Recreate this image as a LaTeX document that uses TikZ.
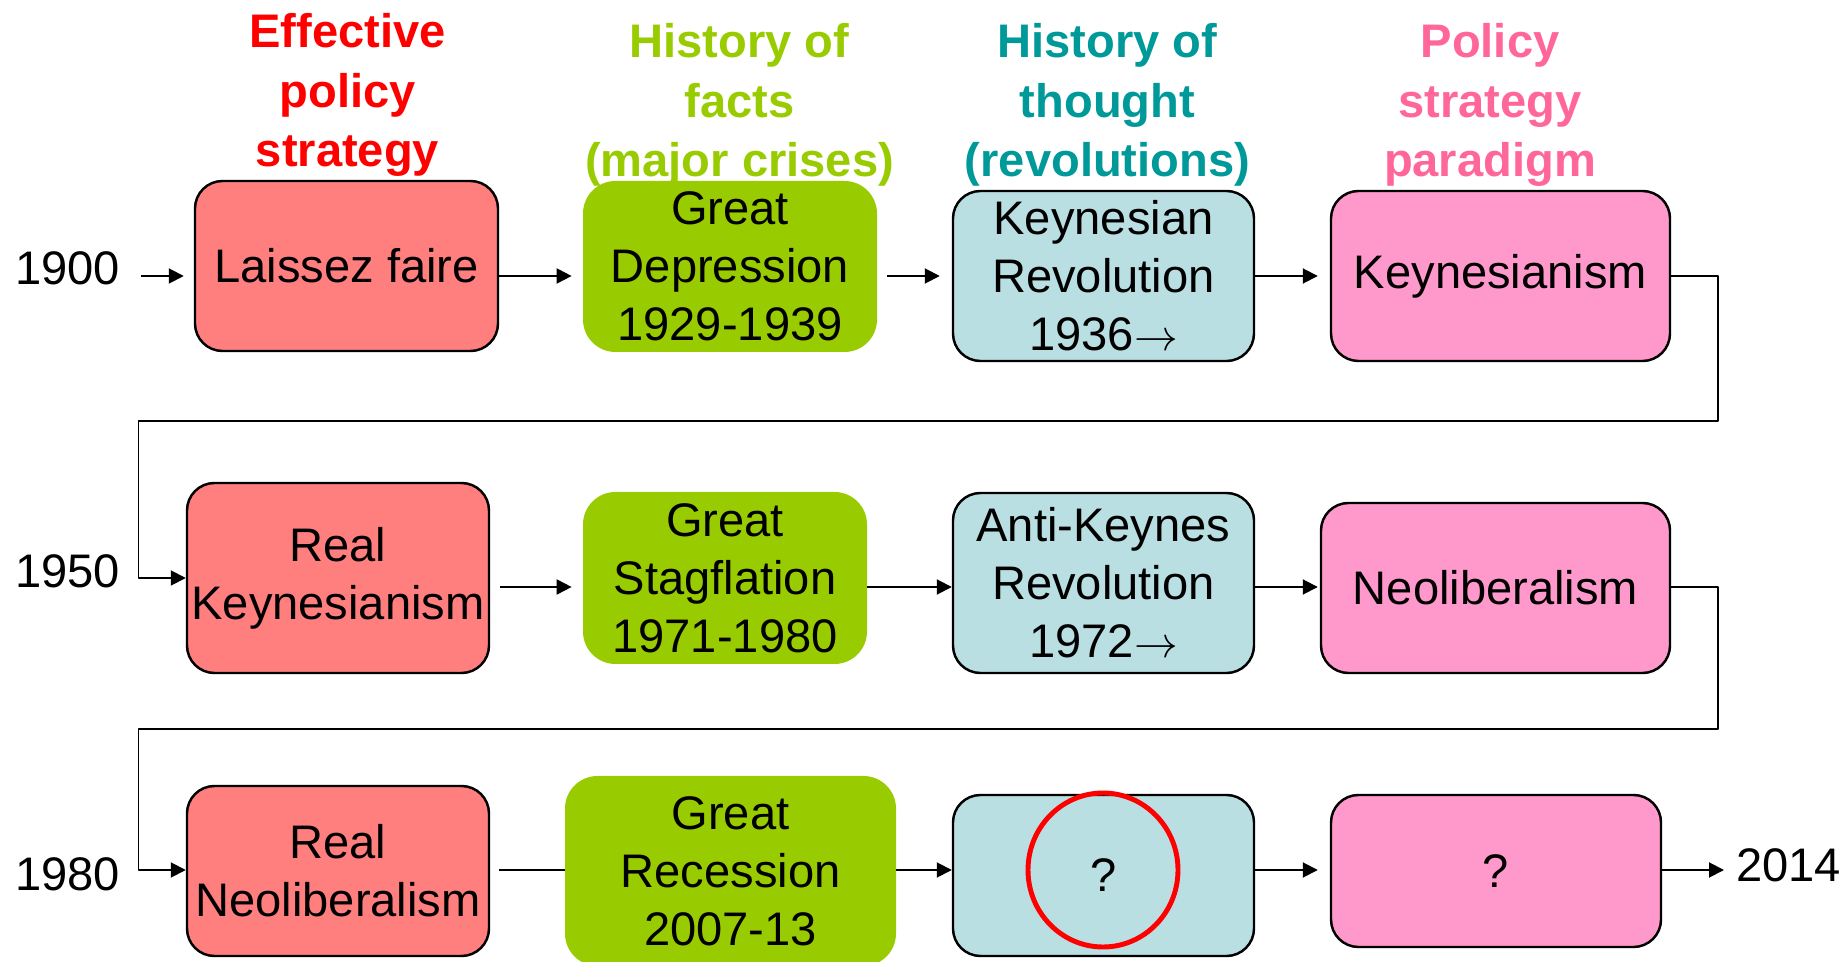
\documentclass[tikz,border=0pt]{standalone}
\usepackage{fontspec}
\setmainfont{Liberation Sans}
\usetikzlibrary{arrows.meta}

\definecolor{saumon}{HTML}{FF7F7F}
\definecolor{vert}{HTML}{99CC00}
\definecolor{bleu}{HTML}{B9DFE3}
\definecolor{rose}{HTML}{FF99CC}
\definecolor{sarcelle}{HTML}{009999}
\definecolor{roseF}{HTML}{FF6699}

\begin{document}
\begin{tikzpicture}[line join=round,
    texte/.style={inner sep=0pt, align=center, font=\fontsize{26.8pt}{33pt}\selectfont},
    titre/.style={texte, anchor=north, font=\fontsize{26.8pt}{34pt}\selectfont\bfseries},
    boite/.style={texte, draw=black, line width=1.4pt, rounded corners=0.55cm},
    crise/.style={texte, fill=vert, rounded corners=0.65cm},
    fleche/.style={line width=1.1pt, -{Triangle[length=0.3cm,width=0.3cm]}},
    trait/.style={line width=1.1pt}]

    \useasboundingbox (0,0) rectangle (36.94,19.22);

    % Lignes des fleches
    \coordinate (r1) at (0,13.70);
    \coordinate (r2) at (0,7.48);
    \coordinate (r3) at (0,1.82);
    \coordinate (d1) at (34.36,10.80);
    \coordinate (g1) at (2.77,10.80);
    \coordinate (d2) at (34.36,4.64);
    \coordinate (g2) at (2.77,4.64);

    % Titres des colonnes
    \node[titre, text=red] (t1) at (6.95,18.96) {Effective\\policy\\strategy};
    \node[titre, text=vert] (t2) at (14.79,18.76) {History of\\facts\\(major crises)};
    \node[titre, text=sarcelle] (t3) at (22.15,18.76) {History of\\thought\\(revolutions)};
    \node[titre, text=roseF] (t4) at (29.80,18.76) {Policy\\strategy\\paradigm};

    % Annees
    \node[texte, anchor=west] (y1900) at (0.30,13.86) {1900};
    \node[texte, anchor=west] (y1950) at (0.30,7.80) {1950};
    \node[texte, anchor=west] (y1980) at (0.30,1.74) {1980};
    \node[texte, anchor=west] (y2014) at (34.72,1.92) {2014};

    % Premiere ligne
    \node[boite, fill=saumon, minimum width=6.06cm, minimum height=3.40cm] (lf) at (6.93,13.90) {Laissez faire};
    \node[crise, minimum width=5.88cm, minimum height=3.42cm] (gd) at (14.60,13.89) {Great\\Depression\\1929-1939};
    \node[boite, fill=bleu, minimum width=6.02cm, minimum height=3.40cm] (kr) at (22.07,13.70) {Keynesian\\Revolution\\1936$\rightarrow$};
    \node[boite, fill=rose, minimum width=6.78cm, minimum height=3.40cm] (ky) at (30.01,13.70) {Keynesianism};

    % Deuxieme ligne
    \node[boite, fill=saumon, minimum width=6.04cm, minimum height=3.80cm] (rk) at (6.76,7.66) {Real\\Keynesianism};
    \node[crise, minimum width=5.68cm, minimum height=3.44cm] (gs) at (14.50,7.66) {Great\\Stagflation\\1971-1980};
    \node[boite, fill=bleu, minimum width=6.02cm, minimum height=3.60cm] (ak) at (22.07,7.56) {Anti-Keynes\\Revolution\\1972$\rightarrow$};
    \node[boite, fill=rose, minimum width=6.98cm, minimum height=3.40cm] (nl) at (29.91,7.46) {Neoliberalism};

    % Troisieme ligne
    \node[boite, fill=saumon, minimum width=6.04cm, minimum height=3.40cm] (rn) at (6.76,1.80) {Real\\Neoliberalism};
    \node[crise, minimum width=6.62cm, minimum height=3.80cm] (gr) at (14.61,1.80) {Great\\Recession\\2007-13};
    \node[boite, fill=bleu, minimum width=6.02cm, minimum height=3.22cm] (qt) at (22.07,1.71) {?};
    \node[boite, fill=rose, minimum width=6.60cm, minimum height=3.04cm] (qp) at (29.92,1.80) {?};
    \draw[red, line width=2.8pt] (22.06,1.82) ellipse (1.50 and 1.54);

    % Fleches
    \draw[fleche, shorten <=0.42cm, shorten >=0.2cm] (y1900.east |- r1) -- (lf.west |- r1);
    \draw[fleche, shorten >=0.22cm] (lf.east |- r1) -- (gd.west |- r1);
    \draw[fleche, shorten <=0.2cm, shorten >=0.24cm] (gd.east |- r1) -- (kr.west);
    \draw[fleche, shorten >=0.24cm] (kr.east) -- (ky.west);
    \draw[fleche] (ky.east) -| (d1) -- (g1) |- (rk.west);

    \draw[fleche, shorten <=0.2cm, shorten >=0.22cm] (rk.east |- r2) -- (gs.west |- r2);
    \draw[fleche] (gs.east |- r2) -- (ak.west |- r2);
    \draw[fleche, shorten >=0.04cm] (ak.east |- r2) -- (nl.west |- r2);
    \draw[fleche] (nl.east |- r2) -| (d2) -- (g2) |- (rn.west |- r3);

    \draw[trait, shorten <=0.18cm] (rn.east |- r3) -- (gr.west |- r3);
    \draw[fleche] (gr.east |- r3) -- (qt.west |- r3);
    \draw[fleche, shorten >=0.24cm] (qt.east |- r3) -- (qp.west |- r3);
    \draw[fleche, shorten >=0.24cm] (qp.east |- r3) -- (y2014.west |- r3);

\end{tikzpicture}
\end{document}
